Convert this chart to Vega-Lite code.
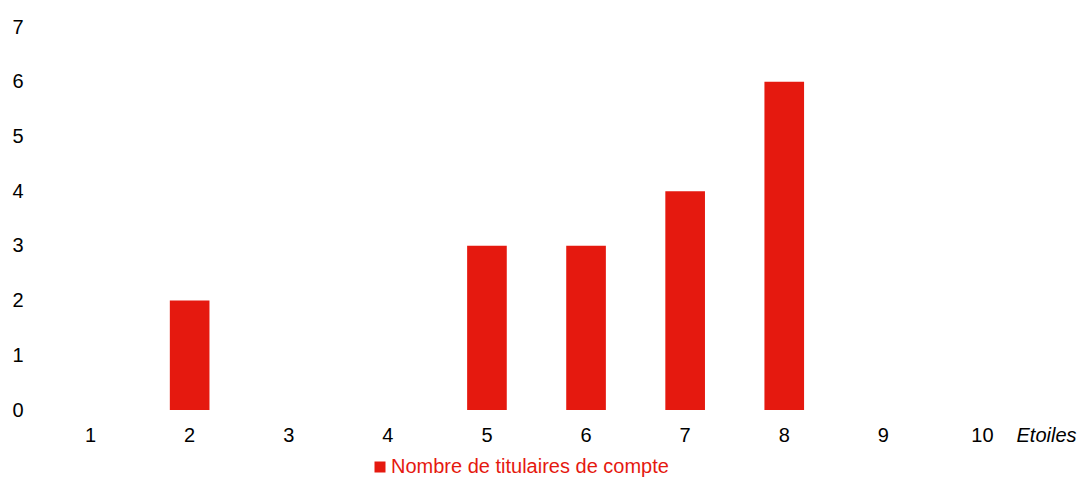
{
  "$schema": "https://vega.github.io/schema/vega-lite/v6.json",
  "autosize": {"type": "none"},
  "width": 991,
  "height": 383,
  "padding": {"left": 41, "top": 27, "right": 50, "bottom": 67},
  "background": "white",
  "config": {
    "view": {"stroke": null},
    "font": "Liberation Sans"
  },
  "data": {
    "values": [
      {"Etoiles": 1, "Nombre": 0, "serie": "Nombre de titulaires de compte"},
      {"Etoiles": 2, "Nombre": 2, "serie": "Nombre de titulaires de compte"},
      {"Etoiles": 3, "Nombre": 0, "serie": "Nombre de titulaires de compte"},
      {"Etoiles": 4, "Nombre": 0, "serie": "Nombre de titulaires de compte"},
      {"Etoiles": 5, "Nombre": 3, "serie": "Nombre de titulaires de compte"},
      {"Etoiles": 6, "Nombre": 3, "serie": "Nombre de titulaires de compte"},
      {"Etoiles": 7, "Nombre": 4, "serie": "Nombre de titulaires de compte"},
      {"Etoiles": 8, "Nombre": 6, "serie": "Nombre de titulaires de compte"},
      {"Etoiles": 9, "Nombre": 0, "serie": "Nombre de titulaires de compte"},
      {"Etoiles": 10, "Nombre": 0, "serie": "Nombre de titulaires de compte"}
    ]
  },
  "mark": {"type": "bar"},
  "encoding": {
    "x": {
      "field": "Etoiles",
      "type": "ordinal",
      "sort": "ascending",
      "scale": {"paddingInner": 0.6, "paddingOuter": 0.3},
      "axis": {
        "title": "Etoiles",
        "titleFont": "Liberation Sans",
        "titleFontStyle": "italic",
        "titleFontWeight": "normal",
        "titleFontSize": 20,
        "titleColor": "black",
        "titleAlign": "left",
        "titleBaseline": "middle",
        "titleAnchor": "start",
        "titleX": 975,
        "titleY": 25,
        "labelAngle": 0,
        "labelFontSize": 20,
        "labelColor": "black",
        "labelPadding": 15,
        "domain": false,
        "ticks": false,
        "tickSize": 0,
        "grid": false
      }
    },
    "y": {
      "field": "Nombre",
      "type": "quantitative",
      "scale": {"domain": [0, 7], "nice": false},
      "axis": {
        "title": null,
        "values": [0, 1, 2, 3, 4, 5, 6, 7],
        "labelFontSize": 20,
        "labelColor": "black",
        "labelPadding": 18,
        "domain": false,
        "ticks": false,
        "tickSize": 0,
        "grid": false
      }
    },
    "color": {
      "field": "serie",
      "type": "nominal",
      "scale": {"range": ["#e5190f"]},
      "legend": {
        "title": null,
        "orient": "none",
        "legendX": 329,
        "legendY": 430,
        "padding": 0,
        "direction": "horizontal",
        "symbolType": "square",
        "symbolSize": 121,
        "symbolStrokeWidth": 0,
        "labelColor": "#e5190f",
        "labelFontSize": 20,
        "labelOffset": 1,
        "labelLimit": 500
      }
    }
  }
}
